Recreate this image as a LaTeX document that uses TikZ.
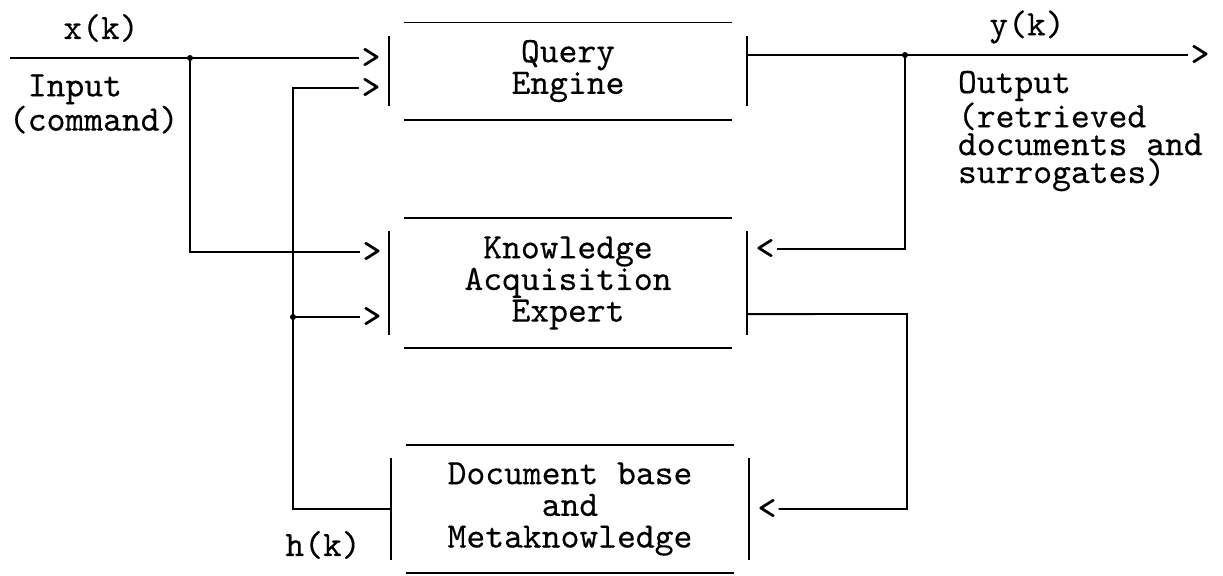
\documentclass[tikz,border=0pt]{standalone}
\usepackage{fontspec}
\usepackage{tikz}
\newfontfamily\typer{lmmono10-regular.otf}[FakeBold=0.3]
\tikzstyle{block} = [rectangle, minimum width=8.93cm, align=center, outer sep=0pt, font=\typer\fontsize{25.5}{22.5}\selectfont,
	append after command={\pgfextra{\let\blk\tikzlastnode}
		([xshift=3.75mm]\blk.north west) edge ([xshift=-3.75mm]\blk.north east)
		([xshift=3.75mm]\blk.south west) edge ([xshift=-3.75mm]\blk.south east)
		([yshift=-3.3mm]\blk.north west) edge ([yshift=3.3mm]\blk.south west)
		([yshift=-3.3mm]\blk.north east) edge ([yshift=3.3mm]\blk.south east)}]
\tikzstyle{tip} = [font=\typer\fontsize{25.5}{22}\selectfont, inner sep=0pt, outer sep=1.5pt]
\tikzstyle{sig} = [font=\typer\fontsize{25.5}{19.8}\selectfont, inner sep=0pt, align=left]
\tikzstyle{dot} = [circle, fill=black, inner sep=0pt, minimum size=1.5mm]

\begin{document}
\begin{tikzpicture}[x=0.025cm, y=-0.025cm, line width=1.4pt]
	\useasboundingbox (0,0) rectangle (1223,575);

	\node (query) [block, minimum height=2.425cm] at (568,71) {Query\\Engine};
	\node (kae) [block, minimum height=3.25cm] at (568,283) {Knowledge\\Acquisition\\Expert};
	\node (dbase) [block, minimum height=3.2cm] at (570,509) {Document base\\and\\Metaknowledge};

	% typed arrow tips
	\node (qa) [tip] at (371,58) {>};
	\node (qb) [tip] at (371,88) {>};
	\node (ka) [tip] at (372,252) {>};
	\node (kb) [tip] at (372,317) {>};
	\node (kc) [tip] at (765,249) {<};
	\node (dc) [tip] at (767,509) {<};
	\node (yout) [tip] at (1200,55) {>};

	\node (xdot) [dot] at (190,58) {};
	\node (ydot) [dot] at (905,55) {};
	\node (hdot) [dot] at (293,317) {};
	\coordinate (xin) at (10,58);
	\coordinate (kbend) at (907,314);
	\coordinate (htop) at (293,88);

	\node (xlab) [sig] at (101,28) {x(k)};
	\node (ylab) [sig] at (1027,27) {y(k)};
	\node (hlab) [sig] at (323,545) {h(k)};
	\node (intext) [sig, anchor=west] at (8,104) {~Input\\(command)};
	\node (outtext) [sig, anchor=west] at (957,131) {Output\\(retrieved\\documents and\\surrogates)};

	\draw (xin) -- (xdot.center) -- (qa);
	\draw (xdot.center) |- (ka);
	\draw (query.east |- ydot) -- (ydot.center) -- (yout);
	\draw (ydot.center) |- (kc);
	\draw ([yshift=-7.75mm]kae.east) -- (kbend) |- (dc);
	\draw (dbase.west) -| (htop) -- (qb);
	\draw (hdot.center) -- (kb);

\end{tikzpicture}
\end{document}
